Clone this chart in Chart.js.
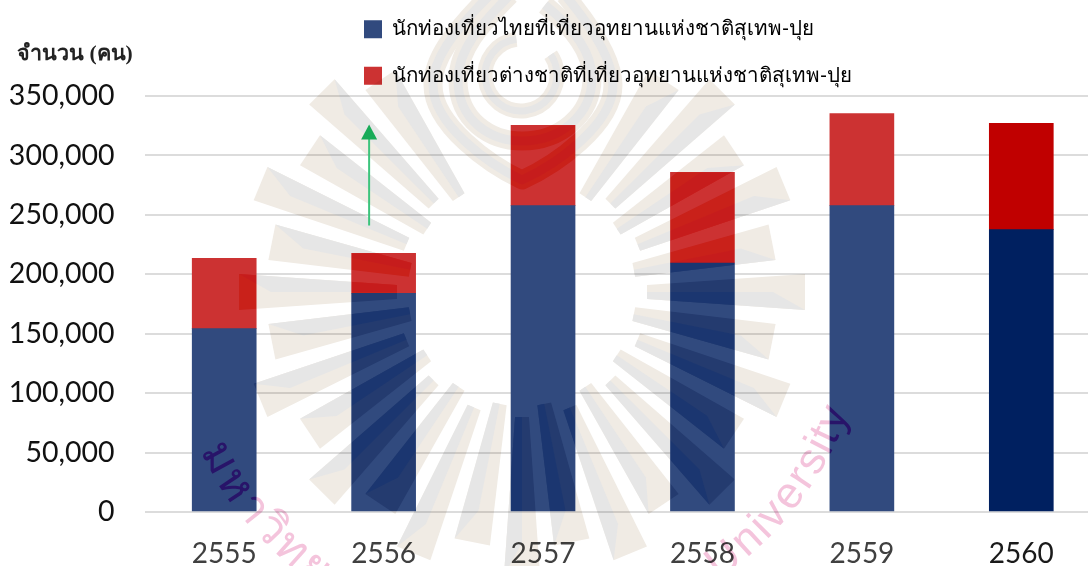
<!DOCTYPE html>
<html lang="th"><head><meta charset="utf-8">
<style>html,body{margin:0;padding:0;background:#fff;overflow:hidden}#w{width:1088px;height:566px;overflow:hidden;position:relative}canvas{display:block}</style>
<script src="https://cdn.jsdelivr.net/npm/chart.js@4"></script></head>
<body><div id="w"><canvas id="c" width="1101" height="566" style="width:1101px;height:566px"></canvas></div>
<script>
const categories = ['2555','2556','2557','2558','2559','2560'];
const thaiVisitors = [154200,184000,257700,209500,257700,237500];
const foreignVisitors = [59100,33600,67600,76300,77400,89500];
const thaiLabel = 'นักท่องเที่ยวไทยที่เที่ยวอุทยานแห่งชาติสุเทพ-ปุย';
const foreignLabel = 'นักท่องเที่ยวต่างชาติที่เที่ยวอุทยานแห่งชาติสุเทพ-ปุย';
const axisTitle = 'จำนวน (คน)';
const thaiColors = ['#314A7E','#314A7E','#314A7E','#314A7E','#314A7E','#002060'];
const foreignColors = ['#CC3232','#CC3232','#CC3232','#CC3232','#CC3232','#C00000'];
const xTickColors = ['#404040','#404040','#404040','#404040','#404040','#1a1a1a'];
const arrowFrom = 241000, arrowTo = 326000;

const rayCentre = {x:522,y:292};
const rayAngles = [0,11.25,22.5,33.75,45,56.25,67.5,78.75,90,101.25,112.5,123.75,135,146.25,157.5,168.75,180,191.25,202.5,213.75,225,236.25,303.75,315,326.25,337.5,348.75];
const BEIGE='#F0EBE4', GREY='#E6E6E6', PINK='#F4C4DC';

function buildWatermark(){
  const cv=document.createElement('canvas');cv.width=1101;cv.height=566;
  const g=cv.getContext('2d');
  g.fillStyle='#fff';g.fillRect(0,0,1101,566);
  rayAngles.forEach(deg=>{
    const long = Math.round(deg/11.25)%2===0;
    const r0 = long?125:114, r1 = long?283:255;
    const t = deg*Math.PI/180, ux=Math.cos(t), uy=Math.sin(t), nx=-uy, ny=ux;
    const P=(r,s)=>[rayCentre.x+ux*r+nx*s, rayCentre.y+uy*r+ny*s];
    const poly=(pts,c)=>{g.fillStyle=c;g.beginPath();pts.forEach((p,j)=>j?g.lineTo(p[0],p[1]):g.moveTo(p[0],p[1]));g.closePath();g.fill();};
    poly([P(r0,-7),P(r1,-18),P(r1,18),P(r0,7)],BEIGE);
    poly([P(r0,0),P(r1-32,0),P(r1,18),P(r0,7)],GREY);
  });
  const bands=[
    'M490 -5 C450 35 433 60 433 85 C433 125 490 165 522 180 C555 165 613 125 613 85 C613 60 590 25 565 -5',
    'M510 -5 C480 25 458 50 458 80 C458 120 490 141 522 141 C560 141 592 115 592 78 C592 50 570 25 545 5'
  ];
  g.lineCap='butt';g.lineJoin='round';
  bands.forEach(d=>{
    const p=new Path2D(d);
    g.strokeStyle=BEIGE;g.lineWidth=19;g.stroke(p);
    g.strokeStyle=GREY;g.lineWidth=9;g.stroke(p);
  });
  const ring=new Path2D();ring.arc(521,75,36,-1.7,-0.6,true);
  g.strokeStyle=BEIGE;g.lineWidth=15;g.stroke(ring);
  g.strokeStyle=GREY;g.lineWidth=7;g.stroke(ring);
  const along=(parts,font,start,spread,r)=>{
    g.font=font;g.fillStyle=PINK;g.textAlign='center';g.textBaseline='middle';
    const ws=parts.map(s=>g.measureText(s).width), tot=ws.reduce((a,b)=>a+b,0);
    let acc=0;
    parts.forEach((s,i)=>{
      const a=start-spread*(acc+ws[i]/2)/tot; acc+=ws[i];
      const t=a*Math.PI/180;
      g.save();g.translate(rayCentre.x+r*Math.cos(t),rayCentre.y+r*Math.sin(t));g.rotate(t-Math.PI/2);g.fillText(s,0,0);g.restore();
    });
  };
  along('University'.split(''),'44px "Liberation Sans",sans-serif',56,36,336);
  along(['ม','ห','า','วิ','ท','ย','า'],'46px "Noto Sans",sans-serif',154,34,346);
  return cv;
}
let wm=null;
const watermark = {
  id:'watermark',
  beforeDatasetsDraw(chart){
    wm=wm||buildWatermark();
    const g=chart.ctx;g.save();g.globalCompositeOperation='multiply';g.drawImage(wm,0,0);g.restore();
  },
  afterDatasetsDraw(chart){
    const g=chart.ctx;g.save();
    g.beginPath();
    chart.data.datasets.forEach((d,i)=>chart.getDatasetMeta(i).data.forEach(el=>{
      g.rect(el.x-el.width/2,Math.min(el.y,el.base),el.width,Math.abs(el.base-el.y));
    }));
    g.clip();
    g.globalCompositeOperation='color-burn';g.drawImage(wm,0,0);g.restore();
  }
};
const arrow = {
  id:'arrow',
  afterDatasetsDraw(chart){
    const g=chart.ctx, y=chart.scales.y, x=chart.scales.x.getPixelForValue(1)-14.5;
    const y0=y.getPixelForValue(arrowFrom), y1=y.getPixelForValue(arrowTo);
    g.save();g.strokeStyle='#3CC47C';g.lineWidth=2;g.beginPath();g.moveTo(x,y0);g.lineTo(x,y1+14);g.stroke();
    g.fillStyle='#18AB58';g.beginPath();g.moveTo(x,y1);g.lineTo(x+8,y1+15);g.lineTo(x-8,y1+15);g.closePath();g.fill();g.restore();
  }
};
const place = {
  id:'place',
  afterLayout(chart){
    const l=chart.legend,w=l.width,h=l.height,pad=l.options.labels.padding;
    l.left=364-pad;l.top=28-9-pad;l.right=l.left+w;l.bottom=l.top+h;
    chart.titleBlock.left=17;
  }
};
new Chart(document.getElementById('c'),{
  type:'bar',
  data:{labels:categories,datasets:[
    {label:thaiLabel,data:thaiVisitors,backgroundColor:thaiColors,stack:'a'},
    {label:foreignLabel,data:foreignVisitors,backgroundColor:foreignColors,stack:'a'}
  ]},
  plugins:[watermark,arrow,place],
  options:{
    responsive:false,animation:false,
    layout:{padding:{top:38,left:0,right:0,bottom:0}},
    datasets:{bar:{barThickness:64}},
    scales:{
      x:{stacked:true,grid:{display:false},border:{display:false},
         afterFit(s){s.height=54;},
         ticks:{padding:17,color:c=>xTickColors[c.index],font:{family:'Lato',size:28}}},
      y:{stacked:true,min:0,max:350000,
         afterFit(s){s.width=144.5;},
         grid:{color:'#DCDCDC',lineWidth:2,drawTicks:false},border:{display:false},
         ticks:{stepSize:50000,padding:30,color:'#111',font:{family:'Lato',size:28.5},
                callback:v=>v.toLocaleString('en-US')}}
    },
    plugins:{
      tooltip:{enabled:false},
      title:{display:true,text:axisTitle,align:'start',color:'#222',
             font:{family:'"Liberation Serif","Noto Sans",serif',size:21.5,weight:'bold',lineHeight:1.3},
             padding:{top:2,bottom:28}},
      legend:{position:'chartArea',align:'start',
        labels:{boxWidth:18,boxHeight:18,padding:26,color:'#595959',
          font:{family:'"Noto Sans","DejaVu Sans",sans-serif',size:20.5},
          generateLabels:()=>[
            {text:thaiLabel,fillStyle:thaiColors[0],strokeStyle:thaiColors[0],lineWidth:0,datasetIndex:0},
            {text:foreignLabel,fillStyle:foreignColors[0],strokeStyle:foreignColors[0],lineWidth:0,datasetIndex:1}
          ]}}
    }
  }
});
</script></body></html>
